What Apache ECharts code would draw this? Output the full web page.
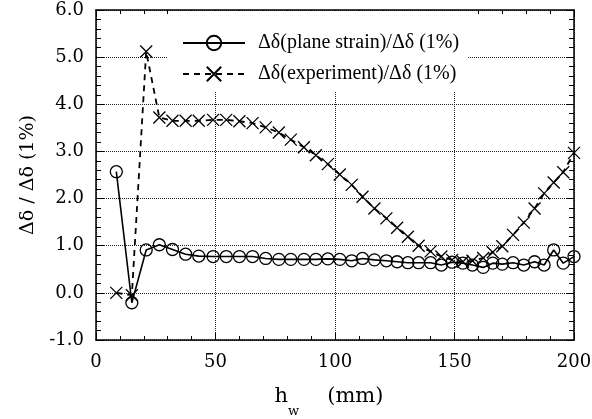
<!DOCTYPE html>
<html>
<head>
<meta charset="utf-8">
<script src="https://cdn.jsdelivr.net/npm/echarts@6/dist/echarts.min.js"></script>
<style>
  html, body { margin: 0; padding: 0; background: #fff; }
  #chart { width: 592px; height: 419px; }
</style>
</head>
<body>
<div id="chart"></div>
<script>
// web height h_w (mm) at each computed / measured point
const hw = [8.5, 15, 21, 26.5, 32, 37.5, 43, 49, 54.5, 60, 65.5, 71, 76.5, 81.5, 87, 92, 97,
  102, 107, 111.5, 116.5, 121.5, 126, 130.5, 135, 140, 144.5, 149, 153.5, 157.5, 162, 166,
  170, 174.5, 179, 183.5, 187.5, 191.5, 195.5, 200];

// normalised deflection, plane strain model
const planeStrain = [2.57, -0.21, 0.91, 1.02, 0.92, 0.82, 0.78, 0.77, 0.77, 0.77, 0.77, 0.73,
  0.71, 0.71, 0.71, 0.71, 0.72, 0.71, 0.68, 0.73, 0.70, 0.68, 0.66, 0.64, 0.64, 0.64, 0.59,
  0.65, 0.63, 0.59, 0.54, 0.63, 0.61, 0.64, 0.59, 0.66, 0.59, 0.91, 0.63, 0.77];

// normalised deflection, experiment
const experiment = [0.0, -0.05, 5.12, 3.72, 3.65, 3.65, 3.65, 3.67, 3.67, 3.64, 3.60, 3.51,
  3.40, 3.25, 3.09, 2.92, 2.73, 2.51, 2.29, 2.04, 1.79, 1.58, 1.38, 1.19, 1.00, 0.88, 0.77,
  0.70, 0.66, 0.68, 0.74, 0.86, 0.99, 1.23, 1.49, 1.79, 2.11, 2.34, 2.56, 2.97];

const seriesNames = ['Δδ(plane strain)/Δδ (1%)', 'Δδ(experiment)/Δδ (1%)'];

// axis tick values
const xTicks = [0, 50, 100, 150, 200];
const yTicks = [-1, 0, 1, 2, 3, 4, 5, 6];

const axisFont = '"DejaVu Serif", "Liberation Serif", serif';
const legendFont = '"Liberation Serif", serif';
const crossPath = 'path://M0,0L10,10M0,10L10,0';

const chart = echarts.init(document.getElementById('chart'), null, { renderer: 'canvas' });

const xBase = {
  type: 'value',
  min: xTicks[0],
  max: xTicks[xTicks.length - 1],
  interval: xTicks[1] - xTicks[0],
  axisLine: { show: true, onZero: false, lineStyle: { color: '#000', width: 1.5 } },
  axisTick: { show: true, inside: true, length: 7, lineStyle: { color: '#000', width: 1 } },
  minorTick: { show: true, splitNumber: 5, length: 4, lineStyle: { color: '#000', width: 1 } }
};
const yBase = {
  type: 'value',
  min: yTicks[0],
  max: yTicks[yTicks.length - 1],
  interval: yTicks[1] - yTicks[0],
  axisLine: { show: true, onZero: false, lineStyle: { color: '#000', width: 1.5 } },
  axisTick: { show: true, inside: true, length: 8, lineStyle: { color: '#000', width: 1 } },
  minorTick: { show: true, splitNumber: 5, length: 5, lineStyle: { color: '#000', width: 1 } }
};

chart.setOption({
  animation: false,
  backgroundColor: '#fff',
  grid: { left: 96, right: 18, top: 10, bottom: 79, show: false, outerBoundsMode: 'none' },
  legend: {
    orient: 'vertical',
    left: 168,
    top: 11,
    padding: [22, 9, 8, 14],
    itemGap: 11,
    itemWidth: 62,
    itemHeight: 18,
    backgroundColor: '#fff',
    data: seriesNames,
    textStyle: { fontFamily: legendFont, fontSize: 20, color: '#000', padding: [0, 0, 0, 8] }
  },
  xAxis: [
    Object.assign({}, xBase, {
      position: 'bottom',
      axisLabel: { show: true, margin: 13, color: '#000', fontFamily: axisFont, fontSize: 18 },
      splitLine: { show: true, lineStyle: { color: '#222', type: 'dotted', width: 1 } },
      name: '{h|h}{w|w}{m|(mm)}',
      nameLocation: 'middle',
      nameGap: 35,
      nameTextStyle: {
        color: '#000',
        fontFamily: axisFont,
        padding: [0, 12, 0, 0],
        rich: {
          h: { fontFamily: axisFont, fontSize: 21, color: '#000' },
          w: { fontFamily: axisFont, fontSize: 13, color: '#000', padding: [30, 0, 0, 0] },
          m: { fontFamily: axisFont, fontSize: 21, color: '#000', padding: [0, 0, 0, 28] }
        }
      }
    }),
    Object.assign({}, xBase, {
      position: 'top',
      axisLabel: { show: false },
      splitLine: { show: false }
    })
  ],
  yAxis: [
    Object.assign({}, yBase, {
      position: 'left',
      axisLabel: {
        show: true, margin: 12, color: '#000', fontFamily: axisFont, fontSize: 18,
        formatter: v => v.toFixed(1)
      },
      splitLine: { show: true, lineStyle: { color: '#222', type: 'dotted', width: 1 } },
      name: 'Δδ / Δδ (1%)',
      nameLocation: 'middle',
      nameGap: 58,
      nameTextStyle: { color: '#000', fontFamily: axisFont, fontSize: 19 }
    }),
    Object.assign({}, yBase, {
      position: 'right',
      axisLabel: { show: false },
      splitLine: { show: false }
    })
  ],
  series: [
    {
      name: seriesNames[0],
      type: 'line',
      data: hw.map((x, i) => [x, planeStrain[i]]),
      symbol: 'circle',
      symbolSize: 12,
      itemStyle: { color: 'rgba(0,0,0,0)', borderColor: '#000', borderWidth: 1.3 },
      lineStyle: { color: '#000', width: 1.6 },
      z: 3
    },
    {
      name: seriesNames[1],
      type: 'line',
      data: hw.map((x, i) => [x, experiment[i]]),
      symbol: crossPath,
      symbolSize: 12,
      itemStyle: { color: 'rgba(0,0,0,0)', borderColor: '#000', borderWidth: 1.3 },
      lineStyle: { color: '#000', width: 1.8, type: [6, 5] },
      z: 3
    }
  ]
});
</script>
</body>
</html>
